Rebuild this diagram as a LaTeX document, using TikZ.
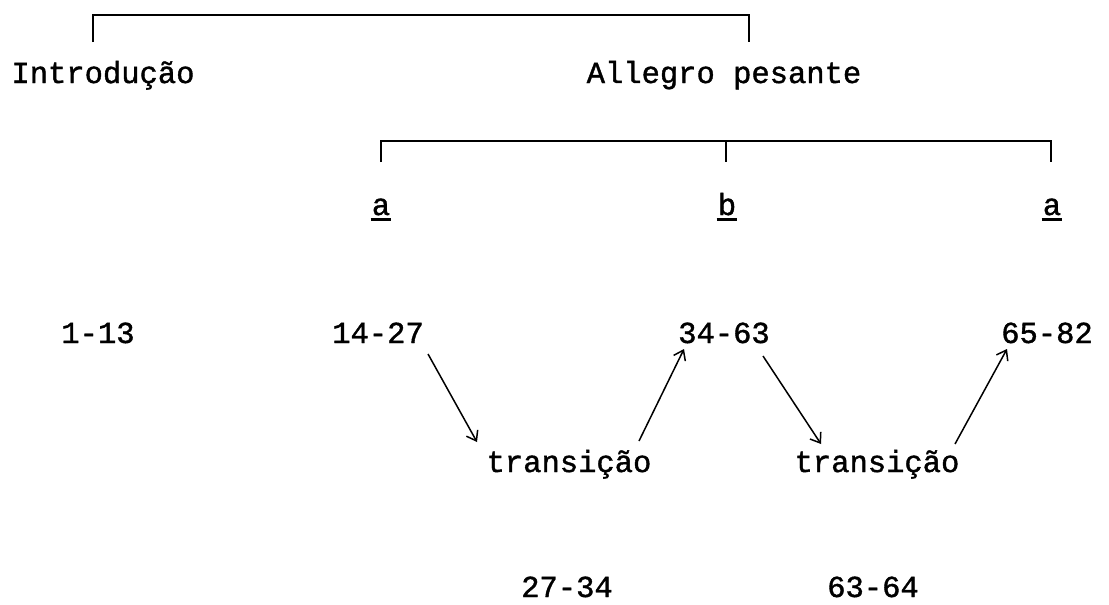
\documentclass[tikz,border=0pt]{standalone}
\usepackage{fontspec}
\setmonofont[FakeBold=1.3]{Liberation Mono}
\usetikzlibrary{arrows.meta}
\tikzset{
  lbl/.style={font=\ttfamily\fontsize{30.5}{32}\selectfont, inner sep=0pt, anchor=base},
  brk/.style={line width=2.2pt},
  arr/.style={line width=1.5pt, -{Straight Barb[length=9pt,width=13pt,line width=1.5pt]}},
  uline/.style={line width=3pt}
}
\begin{document}
\begin{tikzpicture}[x=1pt,y=-1pt]
\path[use as bounding box] (0,0) rectangle (1109,605);
% top bracket
\coordinate (tl) at (93,15);
\coordinate (tr) at (749,15);
\draw[brk] ([yshift=-27pt]tl) -- (tl) -- (tr) -- ([yshift=-27pt]tr);
\node[lbl] (intro) at (103,83) {Introdução};
\node[lbl] (alle) at (724,83) {Allegro pesante};
% second bracket
\coordinate (sl) at (381,141);
\coordinate (sm) at (726,141);
\coordinate (sr) at (1051,141);
\draw[brk] ([yshift=-21pt]sl) -- (sl) -- (sr) -- ([yshift=-21pt]sr);
\draw[brk] (sm) -- ([yshift=-21pt]sm);
\node[lbl] (ua) at (381,215) {a};
\node[lbl] (ub) at (727,215) {b};
\node[lbl] (uc) at (1052,215) {a};
\foreach \n in {ua,ub,uc}
  \draw[uline] ([yshift=-4pt,xshift=-1pt]\n.base west) -- ([yshift=-4pt,xshift=1pt]\n.base east);
% numbers
\node[lbl] (n1) at (98,343) {1-13};
\node[lbl] (n2) at (378,343) {14-27};
\node[lbl] (n3) at (724,343) {34-63};
\node[lbl] (n4) at (1047,343) {65-82};
\node[lbl] (t1) at (569,472) {transição};
\node[lbl] (t2) at (877,472) {transição};
\node[lbl] (m1) at (567,597) {27-34};
\node[lbl] (m2) at (873,597) {63-64};
% arrows
\draw[arr] ([shift={(50,11)}]n2.base) -- ([shift={(-92,-30)}]t1.base);
\draw[arr] ([shift={(70,-31)}]t1.base) -- ([shift={(-40,6)}]n3.base);
\draw[arr] ([shift={(39,13)}]n3.base) -- ([shift={(-56,-28)}]t2.base);
\draw[arr] ([shift={(78,-28)}]t2.base) -- ([shift={(-40,6)}]n4.base);
\end{tikzpicture}
\end{document}
